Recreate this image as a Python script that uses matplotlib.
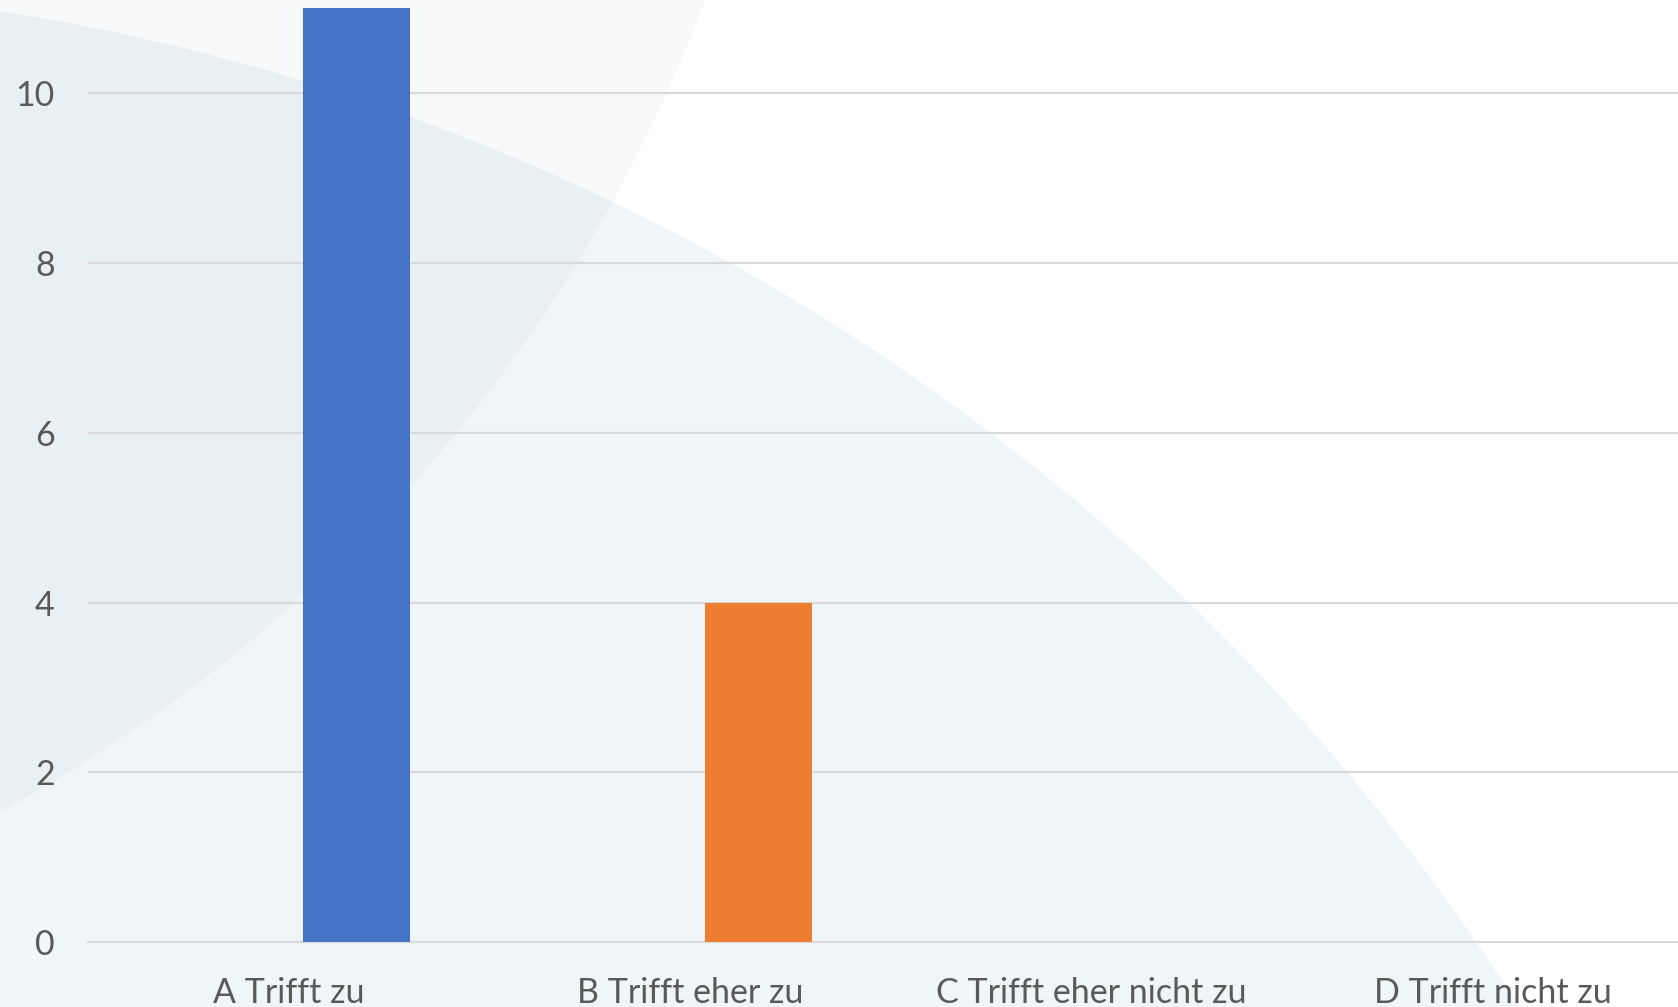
import numpy as np
import matplotlib.pyplot as plt
from matplotlib.patches import Circle

categories = ["A Trifft zu", "B Trifft eher zu", "C Trifft eher nicht zu", "D Trifft nicht zu"]
counts = [11, 4, 0, 0]
bar_colors = ["#4472C4", "#ED7D31", "#A5A5A5", "#FFC000"]
y_ticks = [0, 2, 4, 6, 8, 10]

W, H = 1678, 1007
fig = plt.figure(figsize=(W / 100, H / 100), dpi=100)
fig.patch.set_facecolor("white")

# decorative background circles, in figure pixels
bg = fig.add_axes([0, 0, 1, 1], zorder=-1)
bg.set_xlim(0, W)
bg.set_ylim(H, 0)
bg.axis("off")
bg.add_patch(Circle((-344, 2192), 2208, color="#F0F5F8", lw=0))
bg.add_patch(Circle((-740, -543), 1544, color="#2E5E8C", alpha=0.03, lw=0))

# plot area runs a bit past the right edge of the picture
ax = fig.add_axes([88 / W, (H - 942) / H, 1605 / W, 942 / H])
ax.patch.set_alpha(0)

x = np.arange(len(categories))
ax.bar(x + 0.17, counts, width=0.267, color=bar_colors, zorder=3)

ax.set_xlim(-0.5, 3.5)
ax.set_ylim(0, 11.1)
ax.set_yticks(y_ticks)
ax.set_xticks(x)
ax.set_xticklabels(categories)
ax.grid(axis="y", color="#D9D9D9", lw=1.5, zorder=0)
ax.set_axisbelow(True)
for s in ["top", "right", "left"]:
    ax.spines[s].set_visible(False)
ax.spines["bottom"].set_color("#D9D9D9")
ax.spines["bottom"].set_linewidth(1.5)
ax.tick_params(length=0, labelsize=24.5, labelcolor="#595959")
ax.tick_params(axis="y", pad=24)
ax.tick_params(axis="x", pad=25)
for t in ax.get_xticklabels() + ax.get_yticklabels():
    t.set_fontfamily("Lato")

fig.savefig("out.png", dpi=100)
